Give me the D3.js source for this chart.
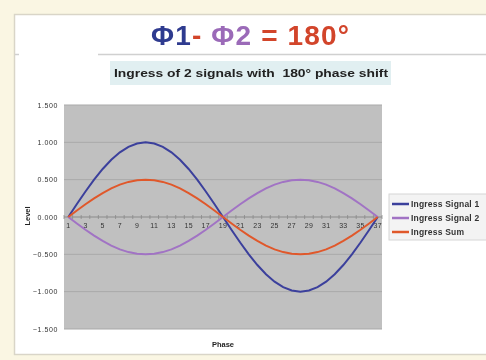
<!DOCTYPE html>
<html>
<head>
<meta charset="utf-8">
<script src="https://cdn.jsdelivr.net/npm/d3@7"></script>
<style>
  html, body { margin: 0; padding: 0; background: #faf6e3; }
  svg { display: block; font-family: "Liberation Sans", Arial, sans-serif; }
</style>
</head>
<body>
<svg id="chart" width="486" height="360"></svg>
<script>
// Phase index, 10° steps over one full period
const phases = d3.range(1, 38);
const phaseTicks = phases.filter(p => p % 2 === 1);
const levelTicks = [-1.5, -1.0, -0.5, 0, 0.5, 1.0, 1.5];

const signal1 = [0, 0.174, 0.342, 0.5, 0.643, 0.766, 0.866, 0.94, 0.985, 1.0, 0.985, 0.94, 0.866, 0.766, 0.643, 0.5, 0.342, 0.174, 0,
  -0.174, -0.342, -0.5, -0.643, -0.766, -0.866, -0.94, -0.985, -1.0, -0.985, -0.94, -0.866, -0.766, -0.643, -0.5, -0.342, -0.174, 0];
const signal2 = [0, -0.087, -0.171, -0.25, -0.321, -0.383, -0.433, -0.47, -0.492, -0.5, -0.492, -0.47, -0.433, -0.383, -0.321, -0.25, -0.171, -0.087, 0,
  0.087, 0.171, 0.25, 0.321, 0.383, 0.433, 0.47, 0.492, 0.5, 0.492, 0.47, 0.433, 0.383, 0.321, 0.25, 0.171, 0.087, 0];
const sum = [0, 0.087, 0.171, 0.25, 0.321, 0.383, 0.433, 0.47, 0.492, 0.5, 0.492, 0.47, 0.433, 0.383, 0.321, 0.25, 0.171, 0.087, 0,
  -0.087, -0.171, -0.25, -0.321, -0.383, -0.433, -0.47, -0.492, -0.5, -0.492, -0.47, -0.433, -0.383, -0.321, -0.25, -0.171, -0.087, 0];

const seriesNames = ["Ingress Signal 1", "Ingress Signal 2", "Ingress Sum"];
const seriesColors = ["#3b3f9c", "#a173c4", "#e0582c"];
const seriesData = [signal1, signal2, sum];

const svg = d3.select("#chart");
svg.append("defs").append("filter").attr("id", "soft")
  .append("feGaussianBlur").attr("stdDeviation", 0.35);
const root = svg.append("g").attr("filter", "url(#soft)");

// Card panel
root.append("rect").attr("x", 14.5).attr("y", 14.5).attr("width", 490).attr("height", 340)
  .attr("fill", "#fff").attr("stroke", "#d9d5c8").attr("stroke-width", 1.5);

// Heading
const title = root.append("text").attr("x", 250).attr("y", 45).attr("text-anchor", "middle")
  .attr("font-size", 28).attr("font-weight", "bold").attr("textLength", 198);
title.append("tspan").attr("fill", "#2f3a8f").text("Φ1");
title.append("tspan").attr("fill", "#d2442c").text("- ");
title.append("tspan").attr("fill", "#9b6bb8").text("Φ2");
title.append("tspan").attr("fill", "#d2442c").text(" = 180°");

root.append("line").attr("x1", 98).attr("x2", 486).attr("y1", 54.5).attr("y2", 54.5)
  .attr("stroke", "#d0d0d0").attr("stroke-width", 1.5);
root.append("line").attr("x1", 15).attr("x2", 19).attr("y1", 54.5).attr("y2", 54.5)
  .attr("stroke", "#d0d0d0").attr("stroke-width", 1.5);

// Chart subtitle
root.append("rect").attr("x", 110).attr("y", 61).attr("width", 281).attr("height", 24).attr("fill", "#e1eff1");
root.append("text").attr("x", 251).attr("y", 77).attr("text-anchor", "middle")
  .attr("font-size", 11).attr("font-weight", "bold").attr("fill", "#222")
  .attr("textLength", 274).attr("lengthAdjust", "spacingAndGlyphs")
  .style("white-space", "pre")
  .text("Ingress of 2 signals with  180° phase shift");

// Plot area
const plot = { left: 64, right: 382, top: 105, bottom: 329 };
const x = d3.scaleBand().domain(phases).range([plot.left, plot.right]);
const y = d3.scaleLinear().domain([-1.5, 1.5]).range([plot.bottom, plot.top]);
const cx = p => x(p) + x.bandwidth() / 2;

root.append("rect").attr("x", plot.left).attr("y", plot.top)
  .attr("width", plot.right - plot.left).attr("height", plot.bottom - plot.top)
  .attr("fill", "#c0c0c0");

// Horizontal gridlines
root.append("g").selectAll("line").data(levelTicks.filter(v => v !== 0)).join("line")
  .attr("x1", plot.left).attr("x2", plot.right)
  .attr("y1", d => y(d)).attr("y2", d => y(d))
  .attr("stroke", "#a9a9a9").attr("stroke-width", 1);

// Level axis labels
const yAxis = d3.axisLeft(y).tickValues(levelTicks).tickSize(0).tickPadding(6)
  .tickFormat(d3.format(".3f"));
root.append("g").attr("transform", `translate(${plot.left},0)`).call(yAxis)
  .call(g => g.select(".domain").remove())
  .call(g => g.selectAll("text").attr("font-size", 7).attr("letter-spacing", 0.6)
    .attr("fill", "#333").attr("font-family", "Liberation Sans, Arial, sans-serif"));

// Phase axis along zero
const xAxis = d3.axisBottom(x).tickValues(phaseTicks).tickSize(0).tickPadding(6);
root.append("g").attr("transform", `translate(0,${y(0)})`).call(xAxis)
  .call(g => g.select(".domain").remove())
  .call(g => g.selectAll("text").attr("font-size", 7).attr("letter-spacing", 0.3)
    .attr("fill", "#333").attr("font-family", "Liberation Sans, Arial, sans-serif"));
root.append("line").attr("x1", plot.left).attr("x2", plot.right)
  .attr("y1", y(0)).attr("y2", y(0)).attr("stroke", "#8a8a8a").attr("stroke-width", 1);
root.append("g").selectAll("line").data(phases.concat([38])).join("line")
  .attr("x1", d => d === 38 ? plot.right : x(d)).attr("x2", d => d === 38 ? plot.right : x(d))
  .attr("y1", y(0) - 2).attr("y2", y(0) + 2)
  .attr("stroke", "#8a8a8a").attr("stroke-width", 0.8);

// Series lines
const line = d3.line().x((d, i) => cx(phases[i])).y(d => y(d));
root.append("g").selectAll("path").data(seriesData).join("path")
  .attr("d", d => line(d)).attr("fill", "none")
  .attr("stroke", (d, i) => seriesColors[i]).attr("stroke-width", 2);

// Axis titles
root.append("text").attr("transform", "translate(30,216) rotate(-90)").attr("text-anchor", "middle")
  .attr("font-size", 7.5).attr("font-weight", "bold").attr("fill", "#222").text("Level");
root.append("text").attr("x", 223).attr("y", 347).attr("text-anchor", "middle")
  .attr("font-size", 7.5).attr("font-weight", "bold").attr("fill", "#222").text("Phase");

// Legend
const legend = root.append("g");
legend.append("rect").attr("x", 389).attr("y", 194).attr("width", 110).attr("height", 46)
  .attr("fill", "#f3f3f3").attr("stroke", "#d6d6d6");
const items = legend.selectAll("g.item").data(seriesNames).join("g").attr("class", "item")
  .attr("transform", (d, i) => `translate(0,${204 + i * 14})`);
items.append("line").attr("x1", 392).attr("x2", 409).attr("y1", 0).attr("y2", 0)
  .attr("stroke", (d, i) => seriesColors[i]).attr("stroke-width", 2.5);
items.append("text").attr("x", 411).attr("y", 3).attr("font-size", 8.5).attr("font-weight", "bold")
  .attr("letter-spacing", 0.2).attr("fill", "#333").text(d => d);
</script>
</body>
</html>
